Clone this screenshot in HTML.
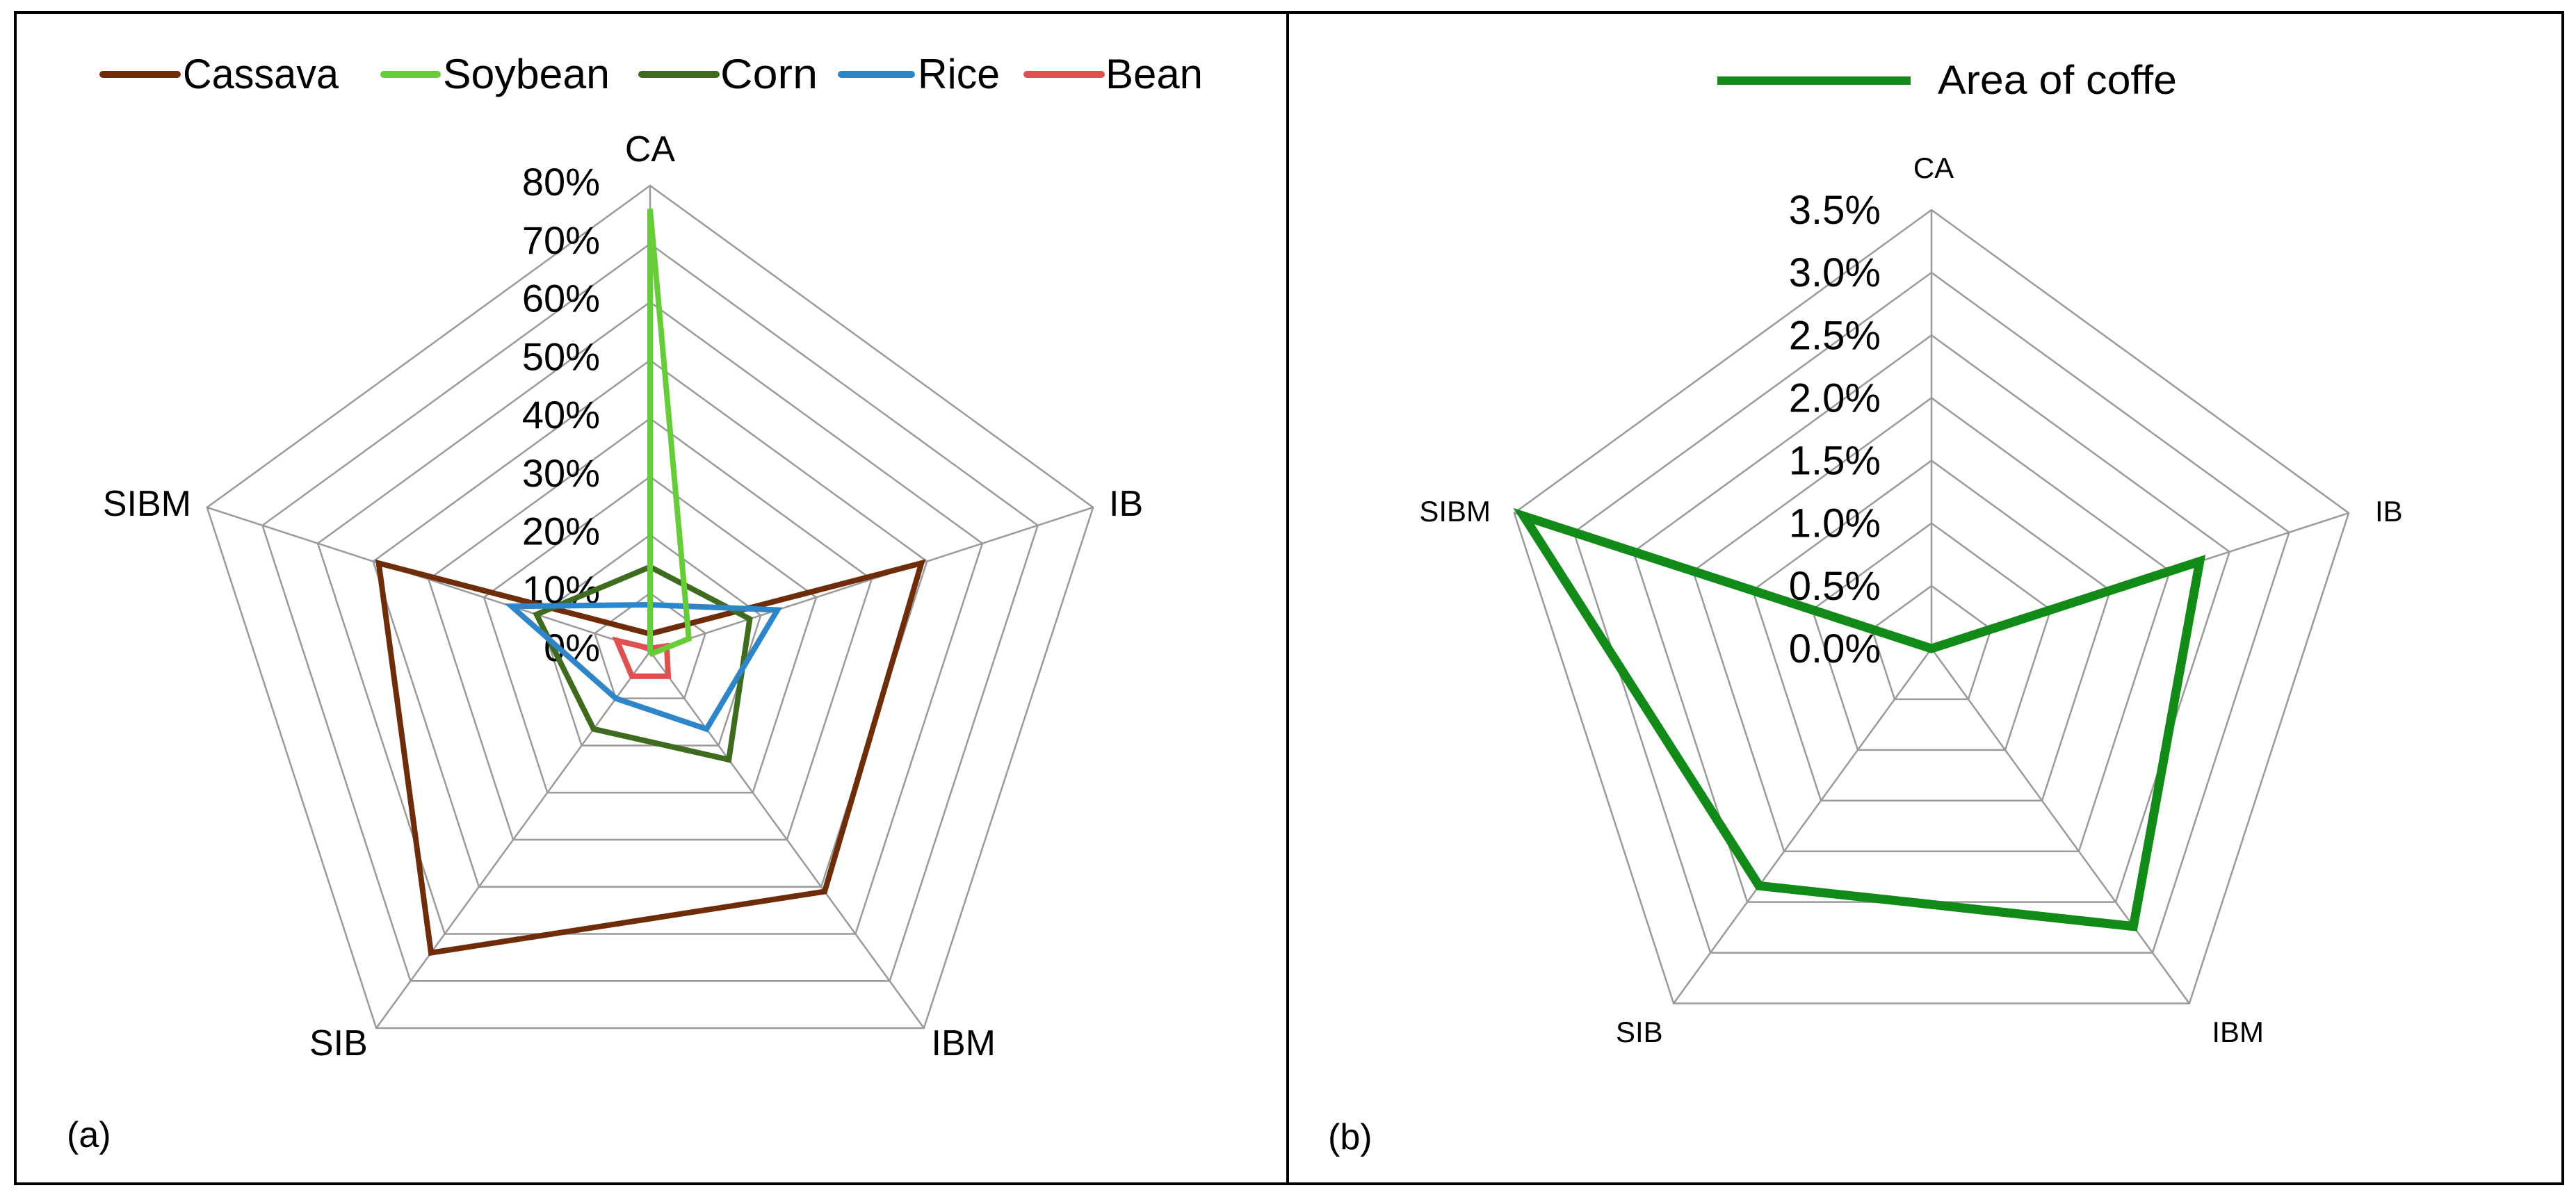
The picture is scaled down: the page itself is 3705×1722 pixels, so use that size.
<!DOCTYPE html>
<html><head><meta charset="utf-8"><style>
html,body{margin:0;padding:0;background:#fff}
svg{display:block}
text{font-family:"Liberation Sans",sans-serif;fill:#000}
</style></head><body>
<svg id="fig" width="3705" height="1722" viewBox="0 0 3705 1722" xmlns="http://www.w3.org/2000/svg">
<rect x="22" y="18" width="3664" height="1685" fill="#fff" stroke="#000" stroke-width="4"/>
<line x1="1852" y1="18" x2="1852" y2="1703" stroke="#000" stroke-width="4"/>
<g id="pa"></g>
<g id="pb"></g>
<text x="96" y="1650" font-size="52">(a)</text>
<text x="1910" y="1653" font-size="52">(b)</text>
</svg>
<script>
const categories = ["CA","IB","IBM","SIB","SIBM"];
const cropNames = ["Cassava","Soybean","Corn","Rice","Bean"];
const cassava = [3, 49, 51, 64, 49];
const soybean = [76, 7, 0.5, 0, 0];
const corn = [14.5, 18, 23, 16.5, 20.5];
const rice = [8, 23, 16.5, 10, 25];
const bean = [0.5, 3, 5.3, 5.3, 6];
const ticksA = [0,10,20,30,40,50,60,70,80];
const tickLabelsA = ["0%","10%","20%","30%","40%","50%","60%","70%","80%"];
const coffee = [0, 2.25, 2.74, 2.34, 3.42];
const ticksB = [0,0.5,1,1.5,2,2.5,3,3.5];
const tickLabelsB = ["0.0%","0.5%","1.0%","1.5%","2.0%","2.5%","3.0%","3.5%"];

const NS="http://www.w3.org/2000/svg";
function mk(tag,attrs,parent){const e=document.createElementNS(NS,tag);for(const k in attrs)e.setAttribute(k,attrs[k]);parent.appendChild(e);return e;}
function pt(cx,cy,R,max,i,v){const a=i*2*Math.PI/5;const r=R*v/max;return [cx+r*Math.sin(a),cy-r*Math.cos(a)];}

function radar(g,cx,cy,R,max,ticks,tlabels,tickRight,tickFont,baseOff){
  ticks.forEach((t,k)=>{
    if(t===0)return;
    const pts=[];for(let i=0;i<5;i++)pts.push(pt(cx,cy,R,max,i,t).join(','));
    const p=mk('polygon',{points:pts.join(' '),fill:'none',stroke:'#9a9a9a','stroke-width':2.5},g);
    
    
  });
  for(let i=0;i<5;i++){
    const e=pt(cx,cy,R,max,i,max);
    const l=mk('line',{x1:cx,y1:cy,x2:e[0],y2:e[1],stroke:'#9a9a9a','stroke-width':2.5},g);
    
    
  }
  ticks.forEach((t,k)=>{
    const y=cy-R*t/max;
    const tx=mk('text',{x:tickRight,y:y+baseOff,'font-size':tickFont,'text-anchor':'end'},g);
    tx.textContent=tlabels[k];
    
    
  });
}
function series(g,cx,cy,R,max,vals,color,w,name){
  const pts=vals.map((v,i)=>pt(cx,cy,R,max,i,v).join(','));
  const p=mk('polygon',{points:pts.join(' '),fill:'none',stroke:color,'stroke-width':w,'stroke-linejoin':'miter'},g);
  
  
}
function catLabels(g,pos,size){
  categories.forEach((c,i)=>{
    const t=mk('text',{x:pos[i][0],y:pos[i][1],'font-size':size,'text-anchor':pos[i][2]},g);
    t.textContent=c;
    
    
  });
}

// Panel A
const ga=document.getElementById('pa');
const A={cx:935,cy:937,R:670,max:80};
radar(ga,A.cx,A.cy,A.R,A.max,ticksA,tickLabelsA,863,56,14);
const colorsA=["#6e2c08","#66cc3a","#3e6b1e","#2e86c8","#e05050"];
const dataA=[cassava,soybean,corn,rice,bean];
[0,2,3,4,1].forEach(k=>series(ga,A.cx,A.cy,A.R,A.max,dataA[k],colorsA[k],8,cropNames[k].toLowerCase()));
catLabels(ga,[[935,232,'middle'],[1595,742,'start'],[1432,1518,'end'],[445,1518,'start'],[275,742,'end']],52);
const legX=[[148,255,263,224],[552,629,637,240],[923,1030,1036,140],[1210,1311,1320,118],[1477,1584,1590,140]];
cropNames.forEach((n,k)=>{
  const l=mk('line',{x1:legX[k][0],y1:107,x2:legX[k][1],y2:107,stroke:colorsA[k],'stroke-width':10,'stroke-linecap':'round'},ga);
  
  
  const t=mk('text',{x:legX[k][2],y:127,'font-size':60,textLength:legX[k][3],lengthAdjust:'spacingAndGlyphs'},ga);
  t.textContent=n;
  
  
});

// Panel B
const gb=document.getElementById('pb');
const B={cx:2778,cy:933,R:631,max:3.5};
radar(gb,B.cx,B.cy,B.R,B.max,ticksB,tickLabelsB,2705,58,20);
series(gb,B.cx,B.cy,B.R,B.max,coffee,"#118a18",13,'area-of-coffe');
catLabels(gb,[[2781,256,'middle'],[3416,750,'start'],[3256,1499,'end'],[2324,1499,'start'],[2144,750,'end']],42);
const ll=mk('line',{x1:2470,y1:116,x2:2748,y2:116,stroke:"#118a18",'stroke-width':12},gb);


const lt=mk('text',{x:2787,y:135,'font-size':58,textLength:344,lengthAdjust:'spacingAndGlyphs'},gb);
lt.textContent="Area of coffe";


</script>
</body></html>
